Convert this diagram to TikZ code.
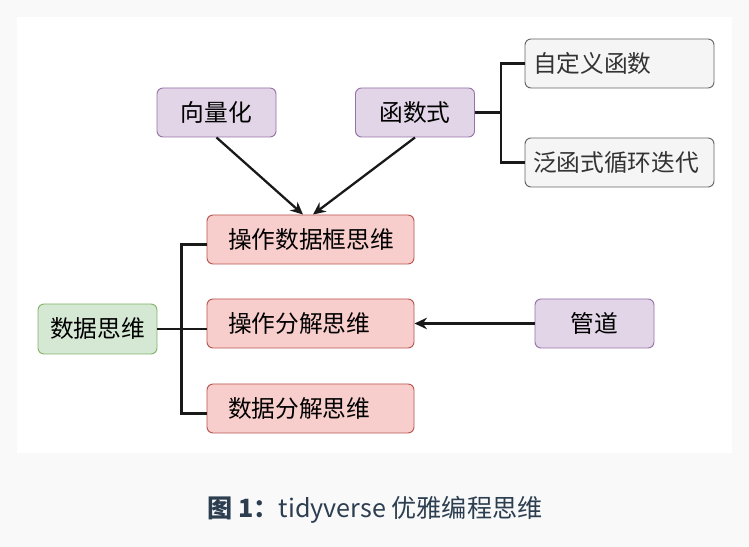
\documentclass[tikz,border=0pt]{standalone}
\usepackage{fontspec}
\setmainfont{Noto Sans CJK SC}
\usepackage{tikz}
\usetikzlibrary{arrows.meta,calc,positioning}
\definecolor{pagegray}{HTML}{F9F9F9}
\definecolor{captionink}{HTML}{2C3E50}
\definecolor{purplefill}{HTML}{E1D5E7}
\definecolor{purpleline}{HTML}{9673A6}
\definecolor{redfill}{HTML}{F8CECC}
\definecolor{redline}{HTML}{B85450}
\definecolor{greenfill}{HTML}{D5E8D4}
\definecolor{greenline}{HTML}{82B366}
\definecolor{grayfill}{HTML}{F5F5F5}
\definecolor{grayline}{HTML}{666666}
\tikzset{
  mind box/.style={rectangle,rounded corners=0.12cm,line width=0.55pt,
    minimum height=0.98cm,inner ysep=0pt,
    font=\fontsize{13.5pt}{16pt}\selectfont},
  idea box/.style={mind box,draw=purpleline,fill=purplefill,
    minimum width=2.38cm,align=center},
  root box/.style={mind box,draw=greenline,fill=greenfill,
    minimum width=2.38cm,minimum height=1.0cm,align=center},
  branch box/.style={mind box,draw=redline,fill=redfill,
    text width=3.3cm,inner xsep=0.42cm,align=left},
  leaf box/.style={mind box,draw=grayline,fill=grayfill,text=black!80,
    text width=3.46cm,inner xsep=0.16cm,align=left},
  tree edge/.style={line width=1.3pt,black!90},
  flow edge/.style={-{Stealth[length=2.5mm,width=2.3mm]},line width=1.3pt,
    black!90}
}

\begin{document}
\begin{tikzpicture}[x=1cm,y=1cm]
    \useasboundingbox (0,0) rectangle (14.98,10.94);
    \fill[pagegray] (0,0) rectangle (14.98,10.94);
    \fill[white] (0.34,1.88) rectangle (14.64,10.6);
    \coordinate (vectorpos) at (4.33,8.69);
    \coordinate (funcpos) at (8.30,8.69);
    \coordinate (custompos) at (12.39,9.67);
    \coordinate (iterpos) at (12.39,7.69);
    \coordinate (framepos) at (6.21,6.15);
    \coordinate (splitpos) at (6.21,4.47);
    \coordinate (datasplitpos) at (6.21,2.77);
    \coordinate (datapos) at (1.95,4.36);
    \coordinate (pipepos) at (11.89,4.47);
    \node[idea box] (vector) at (vectorpos) {向量化};
    \node[idea box] (func) at (funcpos) {函数式};
    \node[leaf box] (custom) at (custompos) {自定义函数};
    \node[leaf box] (iter) at (iterpos) {泛函式循环迭代};
    \node[branch box] (frame) at (framepos) {操作数据框思维};
    \node[branch box] (split) at (splitpos) {操作分解思维};
    \node[branch box] (datasplit) at (datasplitpos) {数据分解思维};
    \node[root box] (data) at (datapos) {数据思维};
    \node[idea box] (pipe) at (pipepos) {管道};
    % trees
    \draw[tree edge] (func.east) -- ++(0.52,0) coordinate (funcfork);
    \draw[tree edge] (funcfork) |- (custom.west);
    \draw[tree edge] (funcfork) |- (iter.west);
    \draw[tree edge] (data.east) -- ++(0.48,0) coordinate (datafork);
    \draw[tree edge] (datafork) |- ([yshift=-0.1cm]frame.west);
    \draw[tree edge] (datafork) -- (datafork -| split.west);
    \draw[tree edge] (datafork) |- ([yshift=-0.1cm]datasplit.west);
    % arrows
    \draw[flow edge] (vector.south) -- ([xshift=-0.15cm]frame.north);
    \draw[flow edge] (func.south) -- ([xshift=0.05cm]frame.north);
    \draw[flow edge] (pipe.west) -- (split.east);
    \node[text=captionink,font=\fontsize{14.3pt}{17pt}\selectfont]
      (caption) at (7.5,0.74) {\textbf{图\ 1：}tidyverse 优雅编程思维};
  \end{tikzpicture}
\end{document}
